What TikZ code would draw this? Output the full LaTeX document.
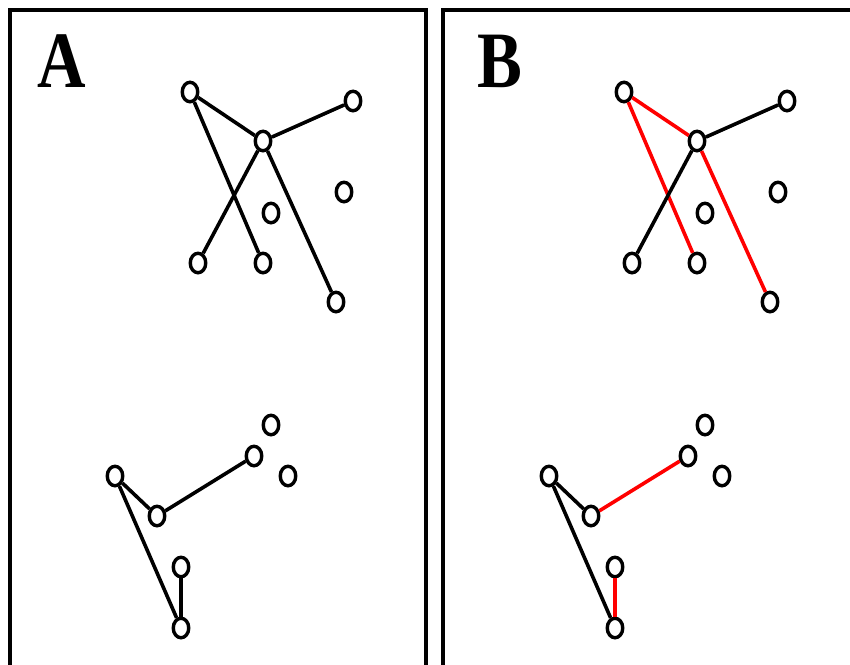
\documentclass[tikz,border=0pt]{standalone}
\usepackage{fontspec}
\setmainfont{Liberation Serif}
\usetikzlibrary{shapes.geometric}
\begin{document}
\begin{tikzpicture}[x=1pt,y=-1pt,
  vtx/.style={ellipse, draw, line width=3.4pt, minimum width=15.5pt, minimum height=19.5pt, inner sep=0pt, fill=white},
  edge/.style={line width=3.6pt, black},
  redge/.style={line width=3.6pt, red},
  frame/.style={line width=3.6pt, black},
  lbl/.style={inner sep=0pt, font=\fontsize{80}{80}\selectfont\bfseries}]
\clip (0,0) rectangle (850,664);
\fill[white] (0,0) rectangle (850,664);
% frames
\draw[frame] (10,720) -- (10,10) -- (426,10) -- (426,720);
\draw[frame] (443,720) -- (443,10) -- (900,10) -- (900,720);
% labels
\node[lbl] (la) at (62,61) {\scalebox{0.84}[1]{A}};
\node[lbl] (lb) at (500,61) {\scalebox{0.84}[1]{B}};
% Panel A
\node[vtx] (a1) at (190,92) {};
\node[vtx] (a2) at (263,141) {};
\node[vtx] (a3) at (353,101) {};
\node[vtx] (a4) at (344,192) {};
\node[vtx] (a5) at (271,213) {};
\node[vtx] (a6) at (198,263) {};
\node[vtx] (a7) at (263,263) {};
\node[vtx] (a8) at (336,302) {};
\node[vtx] (am1) at (115,476) {};
\node[vtx] (am2) at (157,516) {};
\node[vtx] (am3) at (254,456) {};
\node[vtx] (am4) at (271,425) {};
\node[vtx] (am5) at (288,476) {};
\node[vtx] (am6) at (181,567) {};
\node[vtx] (am7) at (181,628) {};
\draw[edge] (a1) -- (a2);
\draw[edge] (a2) -- (a3);
\draw[edge] (a1) -- (a7);
\draw[edge] (a2) -- (a6);
\draw[edge] (a2) -- (a8);
\draw[edge] (am1) -- (am2);
\draw[edge] (am2) -- (am3);
\draw[edge] (am1) -- (am7);
\draw[edge] (am6) -- (am7);
% Panel B
\begin{scope}[xshift=434pt]
\node[vtx] (b1) at (190,92) {};
\node[vtx] (b2) at (263,141) {};
\node[vtx] (b3) at (353,101) {};
\node[vtx] (b4) at (344,192) {};
\node[vtx] (b5) at (271,213) {};
\node[vtx] (b6) at (198,263) {};
\node[vtx] (b7) at (263,263) {};
\node[vtx] (b8) at (336,302) {};
\node[vtx] (bm1) at (115,476) {};
\node[vtx] (bm2) at (157,516) {};
\node[vtx] (bm3) at (254,456) {};
\node[vtx] (bm4) at (271,425) {};
\node[vtx] (bm5) at (288,476) {};
\node[vtx] (bm6) at (181,567) {};
\node[vtx] (bm7) at (181,628) {};
\end{scope}
\draw[redge] (b1) -- (b2);
\draw[edge] (b2) -- (b3);
\draw[redge] (b1) -- (b7);
\draw[edge] (b2) -- (b6);
\draw[redge] (b2) -- (b8);
\draw[edge] (bm1) -- (bm2);
\draw[redge] (bm2) -- (bm3);
\draw[edge] (bm1) -- (bm7);
\draw[redge] (bm6) -- (bm7);
\end{tikzpicture}
\end{document}
